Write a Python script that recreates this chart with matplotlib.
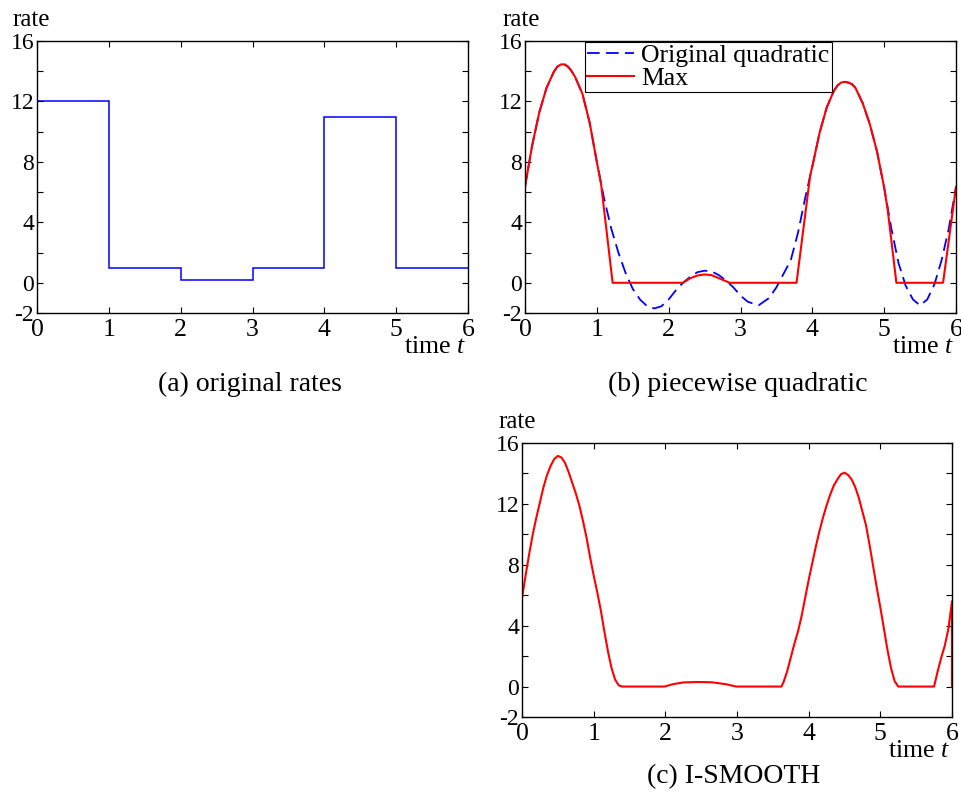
import numpy as np
import matplotlib
matplotlib.use("Agg")
import matplotlib.pyplot as plt
from matplotlib.transforms import offset_copy

plt.rcParams['font.family'] = ['Liberation Serif', 'DejaVu Serif']
plt.rcParams['mathtext.fontset'] = 'custom'
plt.rcParams['mathtext.it'] = 'Liberation Serif:italic'
plt.rcParams['mathtext.rm'] = 'Liberation Serif'

# (a) original step rates, one value per unit interval
step_edges = [0, 1, 2, 3, 4, 5, 6]
step_rates = [12, 1, 0.2, 1, 11, 1]

# (b) piecewise quadratic
quad_t = [0.0, 0.1, 0.2, 0.3, 0.4, 0.45, 0.5, 0.55, 0.6, 0.65, 0.7, 0.8, 0.9, 1.0,
          1.1, 1.2, 1.3, 1.4, 1.5, 1.6, 1.7, 1.8, 1.9, 2.0,
          2.1, 2.2, 2.3, 2.4, 2.5, 2.6, 2.7, 2.8, 2.9, 3.0,
          3.1, 3.25, 3.4, 3.5, 3.6, 3.7, 3.8, 3.9, 4.0,
          4.1, 4.2, 4.3, 4.35, 4.4, 4.45, 4.5, 4.55, 4.6, 4.7, 4.8, 4.9, 5.0,
          5.1, 5.2, 5.3, 5.4, 5.5, 5.6, 5.7, 5.8, 5.9, 6.0]
quad_y = [6.35, 9.1, 11.3, 12.9, 13.95, 14.3, 14.45, 14.45, 14.3, 14.0, 13.6, 12.5, 10.6, 8.0,
          5.6, 3.6, 2.0, 0.65, -0.4, -1.1, -1.55, -1.7, -1.55, -1.1,
          -0.5, 0.0, 0.4, 0.7, 0.8, 0.75, 0.5, 0.15, -0.3, -0.85,
          -1.25, -1.5, -1.0, -0.3, 0.6, 1.5, 3.3, 5.6, 7.7,
          9.9, 11.6, 12.7, 13.05, 13.25, 13.3, 13.25, 13.15, 12.9, 11.9, 10.5, 8.7, 6.3,
          3.6, 1.3, -0.2, -1.1, -1.5, -1.1, -0.1, 1.5, 3.6, 6.35]

max_t = [0.0, 0.1, 0.2, 0.3, 0.4, 0.45, 0.5, 0.55, 0.6, 0.65, 0.7, 0.8, 0.9, 1.0, 1.06,
         1.22, 2.2, 2.3, 2.4, 2.5, 2.6, 2.7, 2.85, 3.78, 3.97,
         4.0, 4.1, 4.2, 4.3, 4.35, 4.4, 4.45, 4.5, 4.55, 4.6, 4.7, 4.8, 4.9, 5.0, 5.05,
         5.17, 5.82, 6.0]
max_y = [6.35, 9.1, 11.3, 12.9, 13.95, 14.3, 14.45, 14.45, 14.3, 14.0, 13.6, 12.5, 10.6, 8.0, 6.5,
         0.0, 0.0, 0.3, 0.48, 0.55, 0.5, 0.3, 0.0, 0.0, 7.1,
         7.7, 9.9, 11.6, 12.7, 13.05, 13.25, 13.3, 13.25, 13.15, 12.9, 11.9, 10.5, 8.7, 6.3, 4.8,
         0.0, 0.0, 6.35]

# (c) I-SMOOTH
smooth_t = [0.0, 0.05, 0.1, 0.15, 0.2, 0.25, 0.3, 0.35, 0.4, 0.45, 0.5,
            0.55, 0.6, 0.65, 0.7, 0.75, 0.8, 0.85, 0.9, 0.95, 1.0,
            1.05, 1.1, 1.15, 1.2, 1.25, 1.3, 1.35, 1.4, 1.99,
            2.1, 2.25, 2.45, 2.65, 2.85, 2.99, 3.62,
            3.65, 3.7, 3.75, 3.8, 3.85, 3.9, 3.95, 4.0, 4.05, 4.1,
            4.15, 4.2, 4.25, 4.3, 4.35, 4.4, 4.45, 4.5, 4.55, 4.6,
            4.65, 4.7, 4.75, 4.8, 4.85, 4.9, 4.95, 5.0, 5.05, 5.1,
            5.15, 5.2, 5.25, 5.75, 5.8, 5.85, 5.9, 5.95, 6.0, 6.0]
smooth_y = [5.8, 7.3, 8.7, 10.0, 11.1, 12.1, 13.1, 13.9, 14.5, 14.95, 15.15,
            15.05, 14.7, 14.1, 13.4, 12.7, 11.9, 10.9, 9.8, 8.5, 7.3,
            6.2, 5.0, 3.6, 2.3, 1.2, 0.45, 0.08, 0.0, 0.0,
            0.15, 0.27, 0.3, 0.28, 0.15, 0.0, 0.0,
            0.3, 1.0, 1.9, 2.8, 3.6, 4.6, 5.8, 7.0, 8.1, 9.2,
            10.2, 11.1, 11.9, 12.6, 13.2, 13.6, 13.95, 14.05, 13.9, 13.6,
            13.1, 12.4, 11.5, 10.6, 9.3, 7.9, 6.5, 5.2, 3.8, 2.4,
            1.2, 0.35, 0.0, 0.0, 1.0, 1.9, 2.7, 3.8, 5.6, 0.0]

yticks = list(range(-2, 17, 2))
ylabels = ['-2', '0', '', '4', '', '8', '', '12', '', '16']

W, H = 961, 792
fig = plt.figure(figsize=(W / 100, H / 100), dpi=100)


def make_axes(left, top, right, bottom):
    ax = fig.add_axes([left / W, 1 - bottom / H, (right - left) / W, (bottom - top) / H])
    ax.set_xlim(0, 6)
    ax.set_ylim(-2, 16)
    ax.set_xticks(range(7))
    ax.set_yticks(yticks)
    ax.set_yticklabels(ylabels)
    ax.tick_params(direction='in', top=True, right=True, length=4, width=0.8,
                   colors='black')
    ax.tick_params(axis='y', pad=2, labelsize=17)
    ax.tick_params(axis='x', pad=4, labelsize=18.5)
    for s in ax.spines.values():
        s.set_linewidth(1.0)
    return ax


def decorate(ax, caption, cap_drop, rate_dx):
    ax.text(0, 1, 'rate', fontsize=18, va='baseline', ha='left',
            transform=offset_copy(ax.transAxes, fig=fig, x=rate_dx, y=15, units='dots'))
    ax.text(1, 0, 'time $t$', fontsize=18.5, va='baseline', ha='right',
            transform=offset_copy(ax.transAxes, fig=fig, x=-2, y=-40, units='dots'))
    ax.text(0.5, 0, caption, fontsize=20, va='baseline', ha='center',
            transform=offset_copy(ax.transAxes, fig=fig, x=-3, y=-cap_drop, units='dots'))


# (a)
ax1 = make_axes(37, 41, 468, 313)
ax1.stairs(step_rates, step_edges, color='#0000ff', linewidth=1.1, baseline=None)
decorate(ax1, '(a) original rates', 78, -25)

# (b)
ax2 = make_axes(525, 41, 956, 313)
ax2.plot(quad_t, quad_y, color='#0000ff', linewidth=1.3, dashes=(7, 3.5),
         label='Original quadratic')
ax2.plot(max_t, max_y, color='#ff0000', linewidth=1.5, label='Max')
leg = ax2.legend(loc='upper left', bbox_to_anchor=(0.14, 0.995), borderaxespad=0,
                 fontsize=18.5, handlelength=1.8, handletextpad=0.3, labelspacing=0,
                 borderpad=0.08, fancybox=False, framealpha=1, edgecolor='black')
leg.get_frame().set_linewidth(0.8)
decorate(ax2, '(b) piecewise quadratic', 78, -23)

# (c)
ax3 = make_axes(522, 443, 952, 717)
ax3.plot(smooth_t, smooth_y, color='#ff0000', linewidth=1.5)
decorate(ax3, '(c) I-SMOOTH', 66, -24)

fig.savefig('out.png', dpi=100)
